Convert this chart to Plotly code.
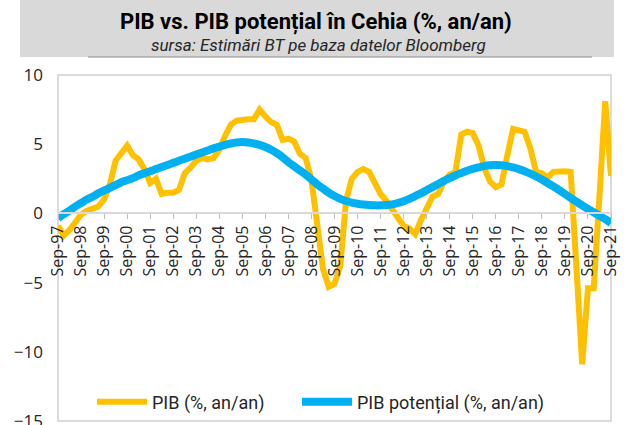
import plotly.graph_objects as go

# ---------------- data ----------------
year_labels = ["Sep-97", "Sep-98", "Sep-99", "Sep-00", "Sep-01", "Sep-02", "Sep-03",
               "Sep-04", "Sep-05", "Sep-06", "Sep-07", "Sep-08", "Sep-09", "Sep-10",
               "Sep-11", "Sep-12", "Sep-13", "Sep-14", "Sep-15", "Sep-16", "Sep-17",
               "Sep-18", "Sep-19", "Sep-20", "Sep-21"]

# quarterly labels Sep-97 ... Sep-21
quarters = []
for i, yl in enumerate(year_labels):
    yy = int(yl[-2:])
    quarters.append(yl)
    if i < len(year_labels) - 1:
        quarters.append("Dec-%02d" % yy)
        quarters.append("Mar-%02d" % ((yy + 1) % 100))
        quarters.append("Jun-%02d" % ((yy + 1) % 100))

pib = [-0.9, -1.6, -1.2, -0.6, -0.1, 0.2, 0.4, 0.5,
       1.0, 2.1, 3.8, 4.4, 4.9, 4.2, 3.9, 3.2,
       2.2, 2.5, 1.4, 1.5, 1.5, 1.7, 2.9, 3.3,
       3.8, 4.0, 3.9, 4.0, 4.6, 5.6, 6.4, 6.7,
       6.8, 6.8, 6.8, 7.5, 7.0, 6.6, 6.4, 5.3,
       5.4, 5.2, 4.3, 4.0, 2.4, -0.9, -4.0, -5.3,
       -5.1, -3.8, 0.9, 2.5, 3.0, 3.2, 3.0, 2.2,
       1.4, 0.9, 0.3, -0.3, -0.9, -1.1, -1.5, -0.5,
       0.3, 1.2, 1.4, 2.3, 2.8, 3.0, 5.7, 5.9,
       5.8, 4.9, 3.3, 2.3, 1.9, 2.1, 4.2, 6.1,
       6.0, 5.9, 4.7, 3.0, 2.9, 2.6, 3.0, 3.05,
       3.05, 3.0, -3.5, -10.9, -5.4, -5.4, 1.3, 8.1,
       2.7]

pib_potential = [-0.35, -0.05, 0.2, 0.5, 0.75, 1.0, 1.2, 1.45,
                 1.65, 1.85, 2.05, 2.25, 2.4, 2.55, 2.75, 2.9,
                 3.05, 3.2, 3.35, 3.5, 3.65, 3.8, 3.95, 4.1,
                 4.25, 4.4, 4.55, 4.7, 4.82, 4.95, 5.05, 5.12,
                 5.15, 5.12, 5.05, 4.95, 4.8, 4.6, 4.35, 4.05,
                 3.7, 3.4, 3.1, 2.8, 2.45, 2.1, 1.8, 1.5,
                 1.25, 1.05, 0.9, 0.78, 0.7, 0.64, 0.6, 0.58,
                 0.58, 0.6, 0.65, 0.75, 0.88, 1.05, 1.25, 1.45,
                 1.68, 1.9, 2.12, 2.35, 2.55, 2.75, 2.92, 3.08,
                 3.22, 3.33, 3.42, 3.48, 3.5, 3.48, 3.42, 3.32,
                 3.2, 3.05, 2.87, 2.67, 2.45, 2.2, 1.95, 1.68,
                 1.4, 1.12, 0.85, 0.58, 0.32, 0.08, -0.17, -0.42,
                 -0.7]

y_ticks = [-15, -10, -5, 0, 5, 10]

title_text = "PIB vs. PIB potențial în Cehia (%, an/an)"
subtitle_text = "sursa: Estimări BT pe baza datelor Bloomberg"
name_pib = "PIB (%, an/an)"
name_pot = "PIB potențial (%, an/an)"

# ---------------- figure ----------------
W, H = 624, 425
L, R, T, B = 58, 13, 75, 4
pw, ph = W - L - R, H - T - B


def px_x(x):
    return (x - L) / pw


def px_y(y):
    return (H - B - y) / ph


fig = go.Figure()
fig.add_trace(go.Scatter(x=quarters, y=pib, mode="lines", name=name_pib,
                         line=dict(color="#FFC000", width=6), legend="legend"))
fig.add_trace(go.Scatter(x=quarters, y=pib_potential, mode="lines", name=name_pot,
                         line=dict(color="#00B0F0", width=8, shape="spline"),
                         legend="legend2"))

zero_pos = (0 - (-15)) / 25.0
legend_font = dict(size=18, family="Roboto, sans-serif", color="#262626")

fig.update_layout(
    width=W, height=H,
    margin=dict(l=L, r=R, t=T, b=B, autoexpand=False),
    paper_bgcolor="white", plot_bgcolor="white",
    font=dict(family="Open Sans, sans-serif", color="#262626"),
    showlegend=True,
    legend=dict(orientation="h", x=px_x(92), xanchor="left", y=px_y(402), yanchor="middle",
                font=legend_font, bgcolor="rgba(0,0,0,0)", itemwidth=50),
    legend2=dict(orientation="h", x=px_x(297), xanchor="left", y=px_y(402), yanchor="middle",
                 font=legend_font, bgcolor="rgba(0,0,0,0)", itemwidth=50),
    xaxis=dict(type="category", range=[0, len(quarters) - 1],
               tickmode="array", tickvals=year_labels, ticktext=year_labels,
               tickangle=-90, ticks="outside", ticklen=5, tickcolor="#BFBFBF",
               showline=True, linecolor="#D9D9D9", linewidth=1.5, automargin=False,
               showgrid=False, zeroline=False, anchor="free", position=zero_pos,
               tickfont=dict(size=16, family="Open Sans, sans-serif", color="#262626")),
    yaxis=dict(range=[-15, 10], tickvals=y_ticks, showgrid=False, zeroline=False,
               showline=False, ticks="", ticklabelstandoff=14, automargin=False,
               ticklabeloverflow="allow",
               tickfont=dict(size=17, family="Open Sans, sans-serif", color="#262626")),
)

shapes = [
    # title banner
    dict(type="rect", xref="paper", yref="paper",
         x0=px_x(20), x1=px_x(614), y0=px_y(57), y1=px_y(0),
         fillcolor="#D9D9D9", line=dict(width=0), layer="below"),
    dict(type="line", xref="paper", yref="paper",
         x0=px_x(88), x1=px_x(592), y0=px_y(57), y1=px_y(57),
         line=dict(color="#8C8C8C", width=1)),
    # plot area border
    dict(type="rect", xref="paper", yref="paper", x0=0, x1=1, y0=0, y1=1,
         line=dict(color="#D0D0D0", width=1.5), layer="below"),
]
fig.update_layout(shapes=shapes)

fig.add_annotation(text="<b>" + title_text + "</b>", xref="paper", yref="paper",
                   x=px_x(316), y=px_y(22), showarrow=False, xanchor="center", yanchor="middle",
                   font=dict(size=22, family="Roboto, sans-serif", color="#000000"))
fig.add_annotation(text="<i>" + subtitle_text + "</i>", xref="paper", yref="paper",
                   x=px_x(318), y=px_y(45), showarrow=False, xanchor="center", yanchor="middle",
                   font=dict(size=17, family="Roboto, sans-serif", color="#262626"))

fig.write_html("out.html", config={"displayModeBar": False},
               post_script="document.body.style.margin='0';")
